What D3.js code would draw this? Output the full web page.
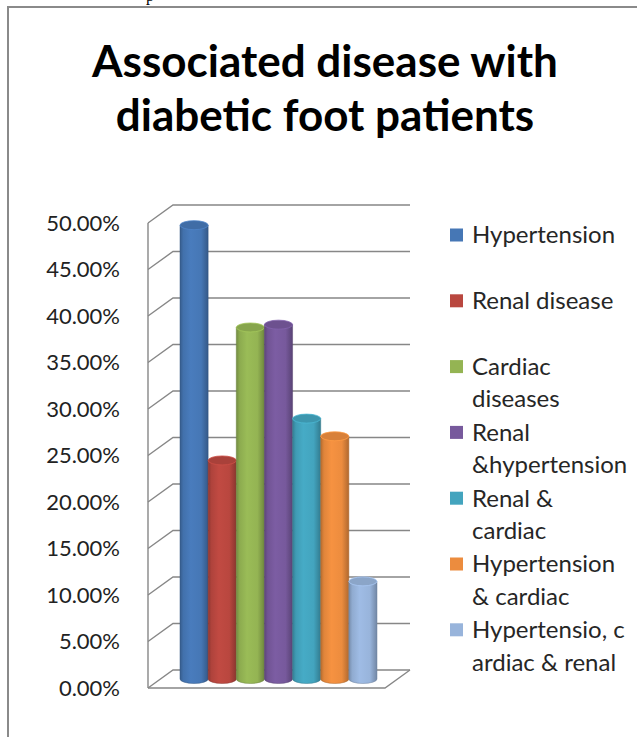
<!DOCTYPE html>
<html>
<head>
  <meta charset="utf-8">
  <title>Associated disease with diabetic foot patients</title>
  <script src="https://d3js.org/d3.v7.min.js"></script>
  <style>
    body { margin: 0; background: #fff; }
    text { font-family: Lato, "Open Sans", sans-serif; }
  </style>
</head>
<body>
  <svg id="chart" width="637" height="737"></svg>
  <script>
    // data
    var categories = ['Hypertension', 'Renal disease', 'Cardiac diseases',
                      'Renal &hypertension', 'Renal & cardiac',
                      'Hypertension & cardiac', 'Hypertensio, cardiac & renal'];
    var values = [48.8, 23.5, 37.8, 38.1, 28.0, 26.1, 10.5];
    var legendLines = [['Hypertension'], ['Renal disease'], ['Cardiac', 'diseases'],
                       ['Renal', '&hypertension'], ['Renal &', 'cardiac'],
                       ['Hypertension', '& cardiac'], ['Hypertensio, c', 'ardiac & renal']];
    var colors = ['#4677B5', '#B9473F', '#94B453', '#77599C', '#43A4BE', '#EC8C3E', '#98B4DB'];
    var tickValues = [0, 5, 10, 15, 20, 25, 30, 35, 40, 45, 50];

    var svg = d3.select('#chart');
    var grid = '#878787';

    // page frame
    svg.append('path')
       .attr('d', 'M8,740 L8,7 L640,7')
       .attr('fill', 'none').attr('stroke', '#8a8a8a').attr('stroke-width', 2);
    svg.append('text').attr('x', 146).attr('y', 1)
       .style('font-family', '"Liberation Serif", serif').style('font-size', '16px')
       .text('p');

    // title
    svg.append('text')
       .attr('text-anchor', 'middle').attr('font-weight', 'bold')
       .style('font-size', '44px').attr('fill', '#000')
       .selectAll('tspan').data(['Associated disease with', 'diabetic foot patients'])
       .join('tspan')
       .attr('x', 325).attr('y', function(d, i) { return 77 + i * 54; })
       .text(function(d) { return d; });

    // 3d frame geometry
    var wallX = 148, depthX = 25, depthY = -18, wallRight = 410;
    var yFront = d3.scaleLinear().domain([0, 50]).range([688, 223]);
    var yMid = function(v) { return yFront(v) + depthY / 2; };

    var x = d3.scaleBand().domain(categories).range([180, 377]).padding(0);

    // back wall gridlines + side wall diagonals
    var g = svg.append('g').attr('fill', 'none').attr('stroke', grid).attr('stroke-width', 1.4);
    g.selectAll('.grid').data(tickValues).join('path')
     .attr('class', 'grid')
     .attr('d', function(d) {
       var y0 = yFront(d);
       return 'M' + wallX + ',' + y0 + ' L' + (wallX + depthX) + ',' + (y0 + depthY) +
              ' L' + wallRight + ',' + (y0 + depthY);
     });
    g.append('line')
     .attr('x1', wallX).attr('x2', wallX)
     .attr('y1', yFront(50)).attr('y2', yFront(0));
    // floor
    g.append('path')
     .attr('d', 'M' + wallX + ',' + yFront(0) + ' L' + (wallRight - depthX) + ',' + yFront(0) +
                ' L' + wallRight + ',' + (yFront(0) + depthY));

    // y axis labels
    var axis = svg.append('g')
       .attr('transform', 'translate(' + (wallX - 28) + ',0)')
       .call(d3.axisLeft(yFront).tickValues(tickValues).tickSize(0).tickPadding(0)
               .tickFormat(function(d) { return d.toFixed(2) + '%'; }));
    axis.select('.domain').remove();
    axis.selectAll('text').style('font-size', '22px').attr('fill', '#222')
        .style('font-family', 'Lato, sans-serif');

    // gradients for cylinders
    var defs = svg.append('defs');
    colors.forEach(function(c, i) {
      var base = d3.color(c);
      var lg = defs.append('linearGradient').attr('id', 'cyl' + i)
                   .attr('x1', 0).attr('x2', 1).attr('y1', 0).attr('y2', 0);
      lg.append('stop').attr('offset', '0%').attr('stop-color', base.darker(0.7));
      lg.append('stop').attr('offset', '12%').attr('stop-color', base.darker(0.15));
      lg.append('stop').attr('offset', '38%').attr('stop-color', base.brighter(0.12));
      lg.append('stop').attr('offset', '75%').attr('stop-color', base);
      lg.append('stop').attr('offset', '100%').attr('stop-color', base.darker(0.8));
    });

    // cylinders
    var ry = 4.5;
    var bw = x.bandwidth();
    var bars = svg.append('g').selectAll('g').data(values).join('g');
    bars.append('path')
        .attr('fill', function(d, i) { return 'url(#cyl' + i + ')'; })
        .attr('stroke', function(d, i) { return d3.color(colors[i]).darker(0.9); })
        .attr('stroke-width', 0.5)
        .attr('d', function(d, i) {
          var x0 = x(categories[i]), yt = yMid(d), yb = yMid(0);
          return 'M' + x0 + ',' + yt + ' L' + x0 + ',' + yb +
                 ' A' + (bw / 2) + ',' + ry + ' 0 0 0 ' + (x0 + bw) + ',' + yb +
                 ' L' + (x0 + bw) + ',' + yt + ' Z';
        });
    bars.append('ellipse')
        .attr('cx', function(d, i) { return x(categories[i]) + bw / 2; })
        .attr('cy', function(d) { return yMid(d); })
        .attr('rx', bw / 2).attr('ry', ry)
        .attr('fill', function(d, i) { return d3.color(colors[i]).darker(0.25); })
        .attr('stroke', function(d, i) { return d3.color(colors[i]).brighter(0.3); })
        .attr('stroke-width', 0.8);

    // legend
    var step = 65.8;
    var leg = svg.append('g').selectAll('g').data(legendLines).join('g')
       .attr('transform', function(d, i) { return 'translate(450,' + (235 + i * step) + ')'; });
    leg.append('rect')
       .attr('x', 0).attr('y', -6.5).attr('width', 13).attr('height', 13)
       .attr('fill', function(d, i) { return colors[i]; });
    leg.append('text')
       .style('font-size', '24px').attr('fill', '#262626')
       .selectAll('tspan').data(function(d) { return d; }).join('tspan')
       .attr('x', 22).attr('y', function(d, j) { return j * 32.5; })
       .attr('dy', '0.35em')
       .text(function(d) { return d; });
  </script>
</body>
</html>
